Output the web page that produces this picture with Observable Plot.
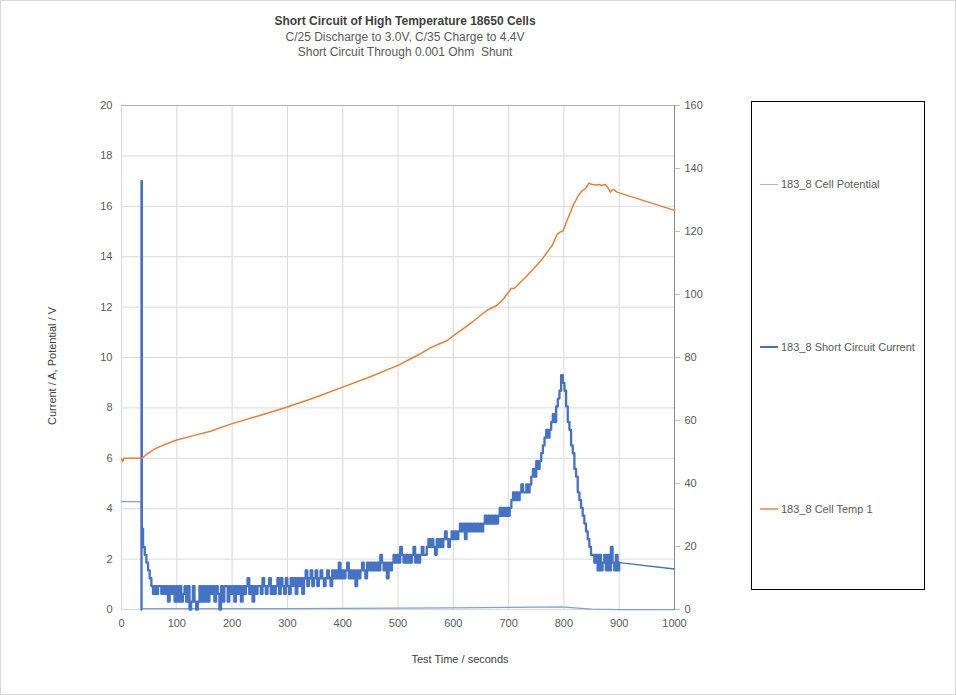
<!DOCTYPE html>
<html>
<head>
<meta charset="utf-8">
<script src="https://cdn.jsdelivr.net/npm/d3@7"></script>
<script src="https://cdn.jsdelivr.net/npm/@observablehq/plot@0.6"></script>
<style>
  html, body { margin: 0; padding: 0; background: #fff; }
  #chart { position: relative; width: 956px; height: 695px; overflow: hidden; font-family: "Liberation Sans", Arial, sans-serif; color: #595959; }
  #border { position: absolute; left: 0; top: 0; width: 956px; height: 695px; box-sizing: border-box; border: 1px solid #d9d9d9; pointer-events: none; }
  #title { position: absolute; left: 0; top: 14px; width: 810px; text-align: center; font-size: 12px; line-height: 15.5px; }
  #title .main { font-weight: bold; color: #404040; }
  #plot { position: absolute; left: 0; top: 0; }
  .axtitle { position: absolute; font-size: 11px; color: #404040; white-space: nowrap; }
  #ylab { left: 52px; top: 366px; transform: translate(-50%, -50%) rotate(-90deg); }
  #xlab { left: 460px; top: 659px; transform: translate(-50%, -50%); }
  #legend { position: absolute; left: 751px; top: 101px; width: 174px; height: 489px; box-sizing: border-box; border: 1px solid #000; }
  .entry { position: absolute; left: 8px; height: 14px; font-size: 11px; color: #595959; white-space: nowrap; }
  .entry .sw { position: absolute; left: 0; width: 18px; }
  .entry .lbl { position: absolute; left: 21px; top: 0; line-height: 14px; }
</style>
</head>
<body>
<div id="chart">
  <div id="title">
    <div class="main">Short Circuit of High Temperature 18650 Cells</div>
    <div>C/25 Discharge to 3.0V, C/35 Charge to 4.4V</div>
    <div>Short Circuit Through 0.001 Ohm&nbsp; Shunt</div>
  </div>
  <div id="plot"></div>
  <div class="axtitle" id="ylab">Current / A, Potential / V</div>
  <div class="axtitle" id="xlab">Test Time / seconds</div>
  <div id="legend"></div>
  <div id="border"></div>
</div>
<script>
// ---------- data ----------
const xTicks = [0, 100, 200, 300, 400, 500, 600, 700, 800, 900, 1000];
const yTicks = [0, 2, 4, 6, 8, 10, 12, 14, 16, 18, 20];
const rightTicks = [0, 20, 40, 60, 80, 100, 120, 140, 160];
const seriesNames = ["183_8 Cell Potential", "183_8 Short Circuit Current", "183_8 Cell Temp 1"];
const seriesColors = ["#7f9fdc", "#4472C4", "#ED7D31"];

// Cell potential (V)
const potentialT = [0, 35.6, 36.2, 100, 200, 300, 400, 500, 600, 700, 795, 850, 900, 1000];
const potentialV = [4.28, 4.28, 0.03, 0.03, 0.03, 0.03, 0.04, 0.05, 0.06, 0.08, 0.1, 0.01, 0.0, 0.0];

// Short circuit current (A): spike, then samples every 3 s from 39 s to 900 s, then end point
const spikeT = [35.9, 36.2, 36.8];
const spikeV = [0, 17, 3.2];
const sampleStart = 39, sampleEnd = 900, sampleStep = 3;
const sampledCurrent = [
  2.48,2.17,1.86,1.55,1.24,0.93,0.62,0.93,0.62,0.93,
  0.93,0.62,0.93,0.62,0.93,0.31,0.93,0.62,0.93,0.31,
  0.93,0.31,0.93,0.31,0.62,0.93,0.31,0.93,0.0,0.31,
  0.93,0.31,0.0,0.31,0.93,0.31,0.93,0.31,0.93,0.31,
  0.93,0.62,0.93,0.31,0.93,0.62,0.0,0.93,0.31,0.93,
  0.93,0.31,0.93,0.62,0.93,0.31,0.93,0.62,0.93,0.31,
  0.93,0.62,0.93,1.24,0.62,0.93,0.31,0.93,0.62,0.93,
  0.93,0.62,1.24,0.93,0.62,0.93,1.24,0.62,0.93,0.62,
  0.93,1.24,0.62,1.24,0.93,0.62,1.24,0.93,0.62,1.24,
  0.93,1.24,0.62,1.24,0.93,1.24,0.62,1.24,1.55,0.93,
  1.24,1.55,0.93,1.24,1.55,0.93,1.24,1.55,1.24,0.93,
  1.24,1.55,1.24,0.93,1.55,1.24,1.55,1.24,1.86,1.24,
  1.55,1.24,1.55,1.86,1.24,1.55,1.24,1.55,0.93,1.55,
  1.24,1.55,1.86,1.55,1.24,1.86,1.55,1.86,1.55,1.86,
  1.55,1.86,1.55,2.17,1.86,1.55,1.86,1.24,1.86,1.55,
  1.86,2.17,1.86,2.17,1.86,2.48,2.17,1.86,2.17,1.86,
  2.17,1.86,2.17,2.48,1.86,2.17,1.86,2.17,2.48,2.17,
  2.17,2.48,2.79,2.48,2.79,2.48,2.17,2.79,2.48,2.79,
  2.48,2.79,3.1,2.79,2.48,2.79,3.1,2.79,3.1,2.79,
  3.1,3.41,3.1,3.41,2.79,3.41,3.1,3.41,3.1,3.41,
  3.1,3.41,3.1,3.41,3.1,3.41,3.72,3.41,3.72,3.41,
  3.72,3.41,3.72,3.41,3.72,4.03,3.72,4.03,3.72,4.03,
  3.72,4.03,4.34,4.65,4.34,4.65,4.34,4.65,4.96,4.65,
  4.65,4.96,4.65,4.96,5.27,5.58,5.27,5.89,5.58,5.89,
  6.2,6.51,6.82,7.13,6.82,7.13,7.44,7.75,7.44,8.06,
  8.37,8.68,9.3,8.99,8.68,8.06,7.44,7.13,6.51,6.2,
  5.58,5.27,4.65,4.34,4.03,3.72,3.41,3.1,2.79,2.48,
  2.17,2.17,1.86,2.17,1.55,2.17,1.55,1.86,2.17,1.55,
  2.17,1.55,2.48,1.86,1.55,2.17,1.55,1.86
];
const endT = [1000];
const endV = [1.61];

// Cell temperature (°C, right axis)
const tempT = [0, 2, 4, 10, 20, 30, 36, 40, 45, 52, 60, 76, 100, 130, 161, 200, 250, 300, 350, 400, 450, 500, 523, 541, 560, 589, 601, 620, 634, 650, 661, 670, 679, 690, 700, 705, 710, 730, 745, 761, 779, 788, 793, 798, 805, 818, 825, 833, 839, 845, 850, 856, 863, 869, 875, 880, 884, 887, 890, 893, 896, 1000];
const tempV = [47.8, 47.0, 47.9, 48.0, 48.0, 48.0, 48.0, 48.4, 49.2, 50.0, 51.0, 52.2, 53.8, 55.2, 56.6, 59.0, 61.6, 64.3, 67.3, 70.6, 73.9, 77.5, 79.6, 81.2, 83.2, 85.4, 87.0, 89.4, 91.2, 93.5, 95.0, 95.8, 96.6, 98.5, 100.7, 102.0, 101.9, 105.3, 108.2, 111.3, 115.6, 119.2, 119.8, 120.1, 123.2, 128.8, 131.0, 133.0, 133.6, 135.3, 135.0, 134.8, 134.9, 134.6, 134.9, 133.8, 132.5, 133.2, 133.3, 132.9, 132.5, 126.7];

// ---------- tables ----------
const sampleT = d3.range(sampleStart, sampleEnd + 0.001, sampleStep);
const stepT = [...spikeT, ...sampleT];
const stepV = [...spikeV, ...sampledCurrent];
const tailT = [stepT[stepT.length - 1], ...endT];
const tailV = [stepV[stepV.length - 1], ...endV];
const RATIO = rightTicks[rightTicks.length - 1] / yTicks[yTicks.length - 1]; // 160 / 20

const potential = potentialT.map((t, i) => ({t, v: potentialV[i]}));
const currentStep = stepT.map((t, i) => ({t, v: stepV[i]}));
const currentTail = tailT.map((t, i) => ({t, v: tailV[i]}));
const temp = tempT.map((t, i) => ({t, v: tempV[i] / RATIO}));

const chart = Plot.plot({
  width: 956,
  height: 695,
  marginLeft: 121,
  marginRight: 282,
  marginTop: 105,
  marginBottom: 86,
  style: {fontFamily: "'Liberation Sans', Arial, sans-serif", fontSize: "11px", color: "#595959", background: "transparent", overflow: "visible"},
  x: {domain: [0, 1000]},
  y: {domain: [0, 20]},
  marks: [
    Plot.gridX(xTicks, {stroke: "#d9d9d9", strokeOpacity: 1}),
    Plot.gridY(yTicks, {stroke: "#d9d9d9", strokeOpacity: 1}),
    Plot.ruleY([20], {stroke: "#b0b0b0"}),
    Plot.axisX(xTicks, {tickSize: 0, tickPadding: 10, label: null, fill: "#595959", tickFormat: d => String(d)}),
    Plot.axisY(yTicks, {anchor: "left", tickSize: 0, tickPadding: 9, label: null, fill: "#595959", tickFormat: d => String(d)}),
    Plot.axisY(rightTicks.map(d => d / RATIO), {anchor: "right", tickSize: 5, tickPadding: 5, stroke: "#bfbfbf", label: null, fill: "#595959", tickFormat: d => String(Math.round(d * RATIO))}),
    Plot.ruleX([1000], {stroke: "#898989"}),
    Plot.line(potential, {x: "t", y: "v", stroke: seriesColors[0], strokeWidth: 1.25}),
    Plot.line(currentStep, {x: "t", y: "v", stroke: seriesColors[1], strokeWidth: 2.3, curve: "step-after"}),
    Plot.line(currentTail, {x: "t", y: "v", stroke: seriesColors[1], strokeWidth: 1.5}),
    Plot.line(temp, {x: "t", y: "v", stroke: seriesColors[2], strokeWidth: 1.5})
  ]
});
document.getElementById("plot").appendChild(chart);

// ---------- legend ----------
const legend = document.getElementById("legend");
const entryTops = [75, 238, 400];
const swWidths = [1, 2, 1.5];
const swColors = ["#9dbbe8", "#4472C4", "#F4A470"];
seriesNames.forEach((name, i) => {
  const e = document.createElement("div");
  e.className = "entry";
  e.style.top = entryTops[i] + "px";
  const sw = document.createElement("div");
  sw.className = "sw";
  sw.style.top = (7 - swWidths[i] / 2) + "px";
  sw.style.height = swWidths[i] + "px";
  sw.style.background = swColors[i];
  const lbl = document.createElement("span");
  lbl.className = "lbl";
  lbl.textContent = name;
  e.appendChild(sw);
  e.appendChild(lbl);
  legend.appendChild(e);
});
</script>
</body>
</html>
